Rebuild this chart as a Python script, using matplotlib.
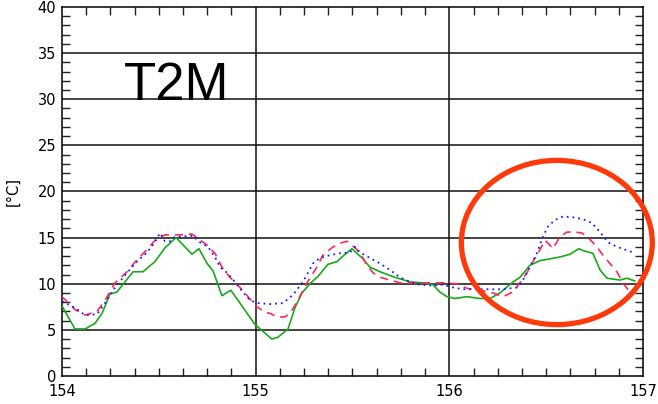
import matplotlib.pyplot as plt
from matplotlib.patches import Ellipse
from matplotlib.ticker import MultipleLocator

# day of year / temperature [degC]
green_day = [154.000, 154.067, 154.119, 154.170, 154.207, 154.248, 154.284, 154.325, 154.367,
             154.418, 154.480, 154.532, 154.589, 154.671, 154.707, 154.749, 154.780, 154.826,
             154.872, 154.919, 154.996, 155.084, 155.115, 155.167, 155.203, 155.239, 155.280,
             155.322, 155.373, 155.420, 155.451, 155.497, 155.549, 155.590, 155.642, 155.719,
             155.797, 155.864, 155.915, 155.951, 155.988, 156.029, 156.091, 156.158, 156.210,
             156.261, 156.323, 156.365, 156.416, 156.468, 156.519, 156.571, 156.623, 156.669,
             156.690, 156.741, 156.778, 156.814, 156.881, 156.917, 156.958]
green_t2m = [7.6, 5.1, 5.1, 5.7, 6.8, 8.9, 9.1, 10.2, 11.3,
             11.3, 12.4, 13.9, 15.0, 13.2, 13.8, 12.2, 11.4, 8.7,
             9.3, 7.9, 5.6, 4.0, 4.2, 5.1, 7.4, 9.0, 10.0,
             10.8, 12.1, 12.4, 13.0, 13.8, 12.8, 11.8, 11.3, 10.7,
             10.2, 10.1, 9.9, 9.1, 8.6, 8.4, 8.6, 8.4, 8.4,
             9.0, 10.1, 10.7, 12.0, 12.5, 12.7, 12.9, 13.2, 13.8,
             13.6, 13.3, 11.5, 10.6, 10.4, 10.6, 10.3]

blue_day = [154.000, 154.067, 154.119, 154.181, 154.222, 154.274, 154.336, 154.387, 154.439,
            154.480, 154.506, 154.532, 154.558, 154.583, 154.676, 154.712, 154.754, 154.790,
            154.816, 154.852, 154.893, 154.934, 154.971, 155.012, 155.074, 155.141, 155.193,
            155.244, 155.296, 155.332, 155.384, 155.435, 155.487, 155.513, 155.538, 155.590,
            155.642, 155.693, 155.745, 155.797, 155.848, 155.910, 155.967, 156.019, 156.070,
            156.122, 156.194, 156.277, 156.349, 156.380, 156.416, 156.452, 156.483, 156.509,
            156.545, 156.587, 156.638, 156.690, 156.736, 156.778, 156.819, 156.865, 156.907,
            156.948]
blue_t2m = [8.1, 7.4, 6.6, 6.7, 7.9, 9.6, 11.2, 12.4, 13.4,
            14.5, 15.5, 14.6, 14.6, 15.1, 15.2, 14.5, 14.0, 12.9,
            11.8, 11.2, 10.2, 9.1, 8.2, 7.9, 7.8, 7.9, 8.8,
            10.2, 12.2, 12.8, 13.1, 13.3, 13.4, 14.0, 13.4, 12.8,
            12.2, 11.5, 10.7, 10.2, 9.9, 9.8, 9.9, 9.6, 9.4,
            9.4, 9.4, 9.4, 9.6, 10.4, 11.8, 13.3, 15.1, 16.2,
            16.9, 17.3, 17.2, 17.0, 16.6, 15.6, 14.5, 14.0, 13.7,
            13.4]

red_day = [154.000, 154.067, 154.119, 154.181, 154.222, 154.274, 154.336, 154.387, 154.439,
           154.480, 154.532, 154.609, 154.671, 154.697, 154.749, 154.790, 154.826, 154.867,
           154.919, 154.960, 155.007, 155.048, 155.074, 155.110, 155.151, 155.177, 155.213,
           155.265, 155.316, 155.347, 155.394, 155.435, 155.471, 155.487, 155.523, 155.554,
           155.575, 155.606, 155.642, 155.693, 155.745, 155.848, 155.967, 156.039, 156.091,
           156.158, 156.225, 156.277, 156.328, 156.365, 156.401, 156.432, 156.468, 156.494,
           156.519, 156.535, 156.571, 156.607, 156.648, 156.685, 156.726, 156.762, 156.793,
           156.829, 156.865, 156.896, 156.932]
red_t2m = [8.6, 7.2, 6.6, 7.0, 8.2, 10.1, 11.3, 12.6, 13.7,
           14.7, 15.3, 15.3, 15.4, 15.0, 14.2, 13.3, 11.8, 10.7,
           9.6, 8.6, 7.5, 6.9, 6.8, 6.4, 6.4, 6.8, 8.0,
           10.1, 11.8, 13.1, 13.9, 14.4, 14.6, 14.4, 13.7, 12.8,
           12.0, 11.2, 10.7, 10.4, 10.1, 10.1, 10.1, 10.0, 9.5,
           9.3, 9.0, 8.6, 9.1, 10.1, 11.2, 12.4, 13.7, 14.7,
           14.2, 13.8, 15.1, 15.6, 15.6, 15.5, 14.8, 14.0, 13.1,
           12.2, 11.3, 10.1, 9.1]

fig = plt.figure(figsize=(6.58, 4.04), dpi=100)
ax = fig.add_axes([0.0942, 0.0693, 0.883, 0.9134])

# grid at the major ticks
for d in [155, 156]:
    ax.axvline(d, color="#111111", lw=1.1, zorder=1)
for t in range(5, 40, 5):
    ax.axhline(t, color="#111111", lw=1.1, zorder=1)

ax.plot(green_day, green_t2m, color="#1aa81a", lw=1.2, zorder=3)
ax.plot(red_day, red_t2m, color="#ff2a5a", lw=1.2, ls=(0, (5, 3.5)), zorder=3)
ax.plot(blue_day, blue_t2m, color="#1a1aff", lw=1.3, ls=(0, (1, 2.2)), zorder=4)

ax.set_xlim(154, 157)
ax.set_ylim(0, 40)
ax.xaxis.set_major_locator(MultipleLocator(1))
ax.xaxis.set_minor_locator(MultipleLocator(0.125))
ax.yaxis.set_major_locator(MultipleLocator(5))
ax.yaxis.set_minor_locator(MultipleLocator(1))
ax.tick_params(which="major", length=0, labelsize=10.5, pad=6)
ax.tick_params(which="minor", direction="in", length=6, width=1,
               top=True, right=True, color="#222222")
ax.tick_params(axis="y", which="major", pad=4)
for s in ax.spines.values():
    s.set_linewidth(1.1)

ax.set_ylabel("[°C]", fontsize=10.5, labelpad=12)
ax.text(154.59, 29.9, "T2M", fontsize=38, family="Liberation Sans",
        ha="center", va="baseline", zorder=5)

ax.add_patch(Ellipse((156.555, 14.47), 0.986, 17.8, fill=False,
                     edgecolor="#ff3a0a", lw=3.8, clip_on=False, zorder=6))

fig.savefig("out.png", dpi=100)
